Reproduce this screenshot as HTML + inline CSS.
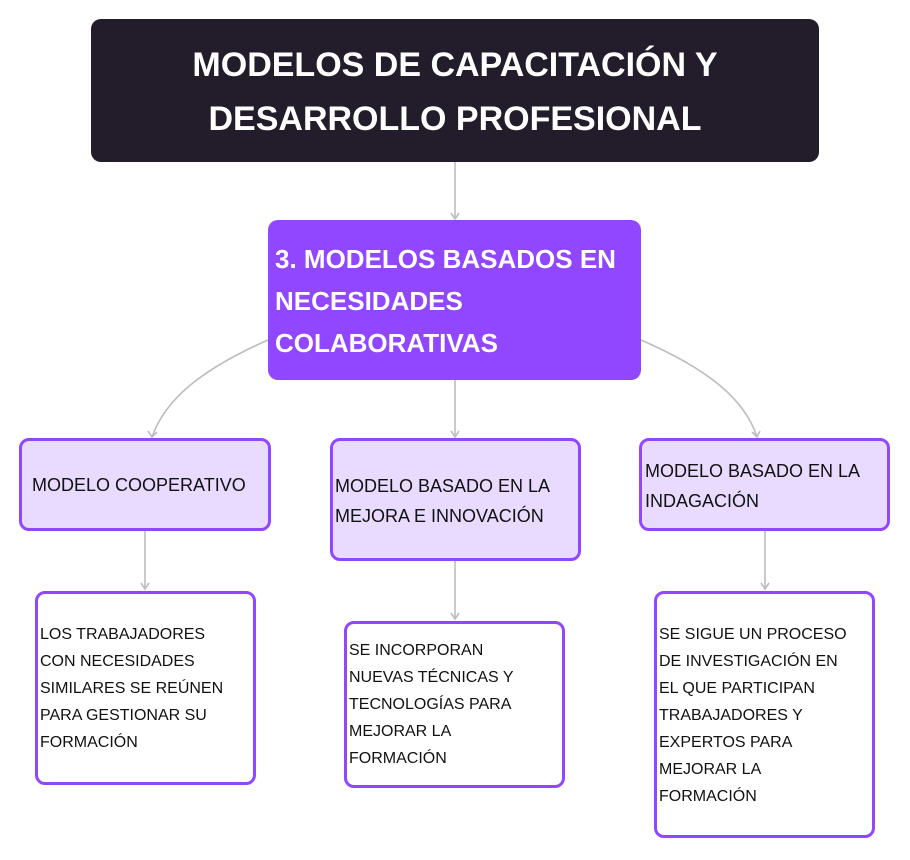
<!DOCTYPE html>
<html><head><meta charset="utf-8"><style>
body{margin:0;width:910px;height:860px;background:#fff;position:relative;overflow:hidden;font-family:"Liberation Sans",sans-serif}
.b{position:absolute;box-sizing:border-box}
.t{position:absolute;white-space:nowrap}
.mid{background:#e8dbff;border:3px solid #9146ff;border-radius:10px}
.leaf{background:#fff;border:3px solid #9146ff;border-radius:10px}
.s18{font-size:18px;color:#111}
.s16{font-size:16px;color:#111;line-height:27px}
</style></head><body>
<svg width="910" height="860" style="position:absolute;left:0;top:0">
<g stroke="#bdbdbd" stroke-width="1.6" fill="none">
<line x1="455" y1="162" x2="455" y2="219"/>
<path d="M268 340 C200 370 165 400 152 437"/>
<path d="M641 340 C710 370 745 400 757 437"/>
<line x1="455" y1="380" x2="455" y2="437"/>
<line x1="145" y1="531" x2="145" y2="589"/>
<line x1="455" y1="561" x2="455" y2="619"/>
<line x1="765" y1="531" x2="765" y2="589"/>
<path d="M451 213 L455 219 L459 213 M148 431 L152 437 L157 432 M752 432 L757 437 L760 431 M451 431 L455 437 L459 431 M141 583 L145 589 L149 583 M451 613 L455 619 L459 613 M761 583 L765 589 L769 583"/>
</g></svg>
<div class="b" style="left:91px;top:19px;width:728px;height:143px;background:#231d2b;border-radius:10px"></div>
<div class="t" style="left:91px;width:728px;top:38px;text-align:center;color:#fff;font-weight:bold;font-size:34px;line-height:54px">MODELOS DE CAPACITACIÓN Y<br>DESARROLLO PROFESIONAL</div>
<div class="b" style="left:268px;top:220px;width:373px;height:160px;background:#9146ff;border-radius:10px"></div>
<div class="t" style="left:275px;top:238px;color:#fff;font-weight:bold;font-size:26px;line-height:42px">3. MODELOS BASADOS EN<br>NECESIDADES<br>COLABORATIVAS</div>
<div class="b mid" style="left:19px;top:438px;width:252px;height:93px"></div>
<div class="t s18" style="left:32px;top:475px">MODELO COOPERATIVO</div>
<div class="b mid" style="left:330px;top:438px;width:251px;height:123px"></div>
<div class="t s18" style="left:335px;top:471px;line-height:30px">MODELO BASADO EN LA<br>MEJORA E INNOVACIÓN</div>
<div class="b mid" style="left:639px;top:438px;width:251px;height:93px"></div>
<div class="t s18" style="left:645px;top:456px;line-height:30px">MODELO BASADO EN LA<br>INDAGACIÓN</div>
<div class="b leaf" style="left:35px;top:591px;width:221px;height:194px"></div>
<div class="t s16" style="left:40px;top:621px">LOS TRABAJADORES<br>CON NECESIDADES<br>SIMILARES SE REÚNEN<br>PARA GESTIONAR SU<br>FORMACIÓN</div>
<div class="b leaf" style="left:344px;top:621px;width:221px;height:167px"></div>
<div class="t s16" style="left:349px;top:637px">SE INCORPORAN<br>NUEVAS TÉCNICAS Y<br>TECNOLOGÍAS PARA<br>MEJORAR LA<br>FORMACIÓN</div>
<div class="b leaf" style="left:654px;top:591px;width:221px;height:247px"></div>
<div class="t s16" style="left:659px;top:621px">SE SIGUE UN PROCESO<br>DE INVESTIGACIÓN EN<br>EL QUE PARTICIPAN<br>TRABAJADORES Y<br>EXPERTOS PARA<br>MEJORAR LA<br>FORMACIÓN</div>
</body></html>
